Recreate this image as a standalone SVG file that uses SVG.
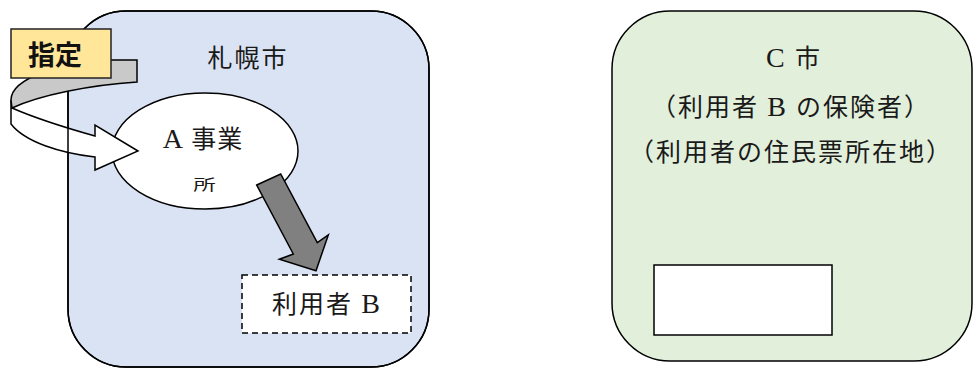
<svg xmlns="http://www.w3.org/2000/svg" xmlns:xlink="http://www.w3.org/1999/xlink" width="973" height="368" viewBox="0 0 973 368">
  <style>
    .t { font-family: "Liberation Serif", "Noto Sans CJK JP", serif; fill: #1a1a1a; font-size: 25px; letter-spacing: 2px; }
    .lat { font-size: 28px; }
    .ln { stroke: #000; stroke-width: 1.5; }
    .bold { font-family: "Noto Sans CJK JP", "Liberation Sans", sans-serif; font-weight: bold; font-size: 27px; fill: #111; }
  </style>
  <defs>
    <rect id="sapRect" x="68" y="11" width="361" height="356" rx="58" ry="58"/>
  </defs>

  <g id="node-sapporo">
    <use xlink:href="#sapRect" fill="#DAE3F3" stroke="#000" stroke-width="1.5"/>
    <text class="t" x="248" y="67" text-anchor="middle">札幌市</text>
  </g>

  <g id="node-cshi">
    <rect x="612" y="11" width="360" height="350" rx="58" ry="58" fill="#E2EFDA" class="ln"/>
    <text class="t" x="794" y="67" text-anchor="middle"><tspan class="lat">C</tspan> 市</text>
    <text class="t" x="791" y="116" text-anchor="middle">（利用者 <tspan class="lat">B</tspan> の保険者）</text>
    <text class="t" x="791" y="161" text-anchor="middle">（利用者の住民票所在地）</text>
  </g>

  <g id="node-blank">
    <rect x="654" y="265" width="178" height="70" fill="#fff" class="ln"/>
  </g>

  <g id="node-riyosha">
    <rect x="242" y="275" width="169" height="58" fill="#fff" class="ln" stroke-dasharray="6,4"/>
    <text class="t" x="327" y="313" text-anchor="middle">利用者 <tspan class="lat">B</tspan></text>
  </g>

  <g id="node-jigyosho">
    <ellipse cx="205" cy="151" rx="93" ry="58" fill="#fff" class="ln"/>
    <text class="t" x="203" y="148" text-anchor="middle" style="letter-spacing:1px"><tspan class="lat">A</tspan> 事業</text>
    <text class="t" x="0" y="0" text-anchor="middle" style="letter-spacing:0;font-size:15px" transform="translate(204.5,190) scale(1.5,1)">所</text>
  </g>

  <g id="connectors">
    <path d="M12,108 C35,118 70,129 95,136 L95,125 L138,151 L95,170 L95,157 C60,153 25,142 11,124 L11,100 Z" fill="#fff" class="ln" stroke-linejoin="miter"/>
    <use xlink:href="#sapRect" fill="none" stroke="#000" stroke-width="1.5"/>
    <path d="M137,60 L110,60 C62,62 11,78 11,100 L12,108 C40,95 90,85 137,82 Z" fill="#C9C9C9" class="ln"/>
    <polygon points="256.7,185 280.7,174 317.3,242.7 328.3,235 316,270.7 279.3,259.3 293.3,254" fill="#808080" class="ln"/>
  </g>

  <g id="node-shitei">
    <rect x="11" y="29" width="100" height="49" fill="#FFE699" stroke="#222" stroke-width="1.5"/>
    <text class="bold" x="55" y="65" text-anchor="middle">指定</text>
  </g>
</svg>
